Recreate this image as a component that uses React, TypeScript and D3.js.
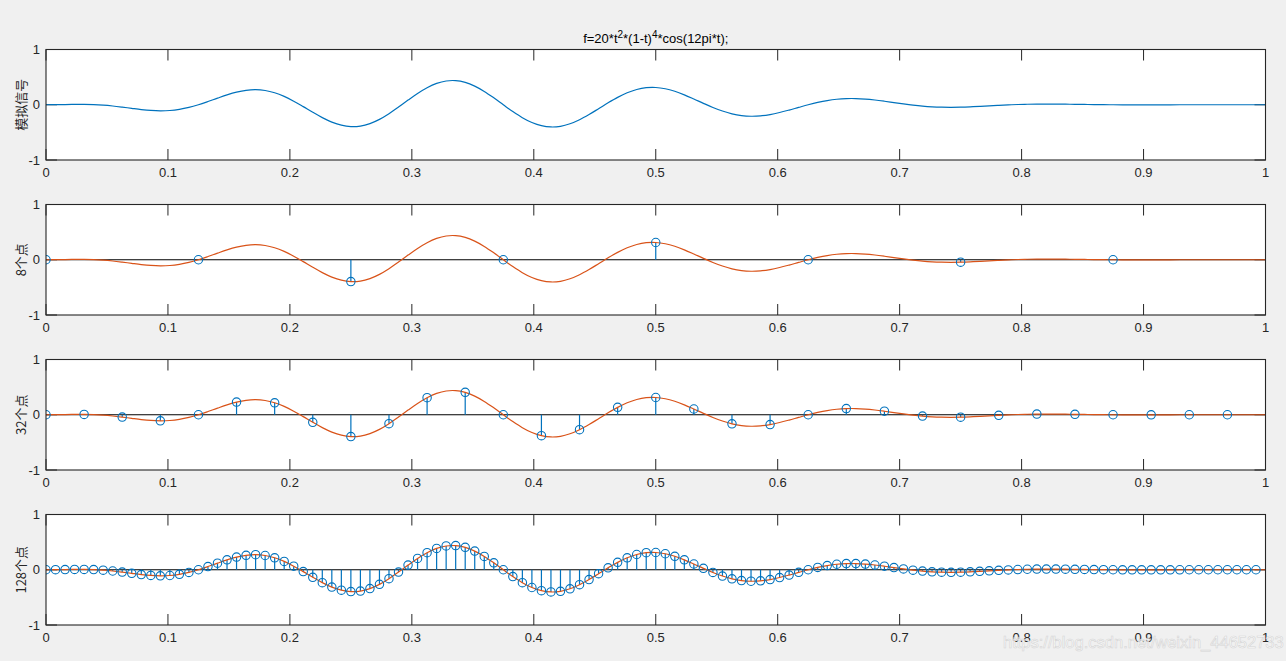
import React from "react";
import * as d3 from "d3";

// f = 20 t^2 (1-t)^4 cos(12 pi t), values read at t = k/128, k = 0..128
const signal128: number[] = [
  0, 0.0011, 0.0038, 0.0063, 0.0066, 0.0026, -0.0071, -0.0225, -0.0427, -0.0651,
  -0.0865, -0.1026, -0.1095, -0.1039, -0.0836, -0.0484, 0, 0.0579, 0.1199, 0.1791,
  0.2286, 0.2616, 0.2725, 0.2579, 0.2167, 0.1508, 0.0649, -0.0338, -0.1364, -0.2331,
  -0.3139, -0.3702, -0.3955, -0.386, -0.3413, -0.2644, -0.1616, -0.0419, 0.0841, 0.2046,
  0.3085, 0.3861, 0.4304, 0.4368, 0.405, 0.3378, 0.2417, 0.1255, 0, -0.1235,
  -0.2338, -0.3214, -0.379, -0.4022, -0.39, -0.3445, -0.271, -0.177, -0.0717, 0.0352,
  0.134, 0.2163, 0.2758, 0.3083, 0.3125, 0.2896, 0.2434, 0.1793, 0.1043, 0.0257,
  -0.0492, -0.1141, -0.1639, -0.1956, -0.2077, -0.2009, -0.1774, -0.141, -0.0961, -0.0475,
  0, 0.0423, 0.0761, 0.0993, 0.1111, 0.1118, 0.1027, 0.0858, 0.0638, 0.0393,
  0.015, -0.0069, -0.0247, -0.0374, -0.0446, -0.0466, -0.0439, -0.0378, -0.0294, -0.02,
  -0.0107, -0.0024, 0.0042, 0.0089, 0.0115, 0.0124, 0.0117, 0.0101, 0.0078, 0.0055,
  0.0032, 0.0014, 0, -0.0009, -0.0013, -0.0013, -0.0012, -0.0009, -0.0006, -0.0004,
  -0.0002, -0.0001, 0, 0, 0, 0, 0, 0, 0,
];

const panelLabels: string[] = ["模拟信号", "8个点", "32个点", "128个点"];
const sampleCounts: number[] = [0, 8, 32, 128];
const xTicks: number[] = [0, 0.1, 0.2, 0.3, 0.4, 0.5, 0.6, 0.7, 0.8, 0.9, 1];
const xTickLabels: string[] = ["0", "0.1", "0.2", "0.3", "0.4", "0.5", "0.6", "0.7", "0.8", "0.9", "1"];
const yTicks: number[] = [-1, 0, 1];
const yTickLabels: string[] = ["-1", "0", "1"];

const W = 1286;
const H = 661;
const LEFT = 46;
const RIGHT = 1265.5;
const TOPS = [49.5, 204.5, 359.5, 514.5];
const PH = 110.5;
const BLUE = "#0072BD";
const ORANGE = "#D95319";
const AXIS = "#262626";
const TICK = 11;
const FONT = "'Liberation Sans', Arial, Helvetica, sans-serif";
const CJK = "'Noto Sans CJK SC', 'Noto Sans', sans-serif";

const points = signal128.map((v, k) => ({ t: k / 128, v }));

function Panel({ idx }: { idx: number }) {
  const top = TOPS[idx];
  const x = d3.scaleLinear().domain([0, 1]).range([LEFT, RIGHT]);
  const y = d3.scaleLinear().domain([-1, 1]).range([top + PH, top]);
  const line = d3
    .line<{ t: number; v: number }>()
    .x((d) => x(d.t))
    .y((d) => y(d.v))
    .curve(d3.curveCatmullRom.alpha(0.5));
  const n = sampleCounts[idx];
  const stems: { t: number; v: number }[] = [];
  if (n > 0) {
    const step = 128 / n;
    for (let k = 0; k < 128; k += step) stems.push(points[k]);
  }
  const clipId = `clip${idx}`;
  return (
    <g>
      <defs>
        <clipPath id={clipId}>
          <rect x={LEFT} y={top} width={RIGHT - LEFT} height={PH} />
        </clipPath>
      </defs>
      <rect x={LEFT} y={top} width={RIGHT - LEFT} height={PH} fill="#ffffff" />
      <g clipPath={`url(#${clipId})`}>
        {n > 0 && (
          <line x1={LEFT} x2={RIGHT} y1={y(0)} y2={y(0)} stroke="#000" strokeWidth={1} />
        )}
        {stems.map((d, i) => (
          <line
            key={"s" + i}
            x1={x(d.t)}
            x2={x(d.t)}
            y1={y(0)}
            y2={y(d.v)}
            stroke={BLUE}
            strokeWidth={1.2}
          />
        ))}
      </g>
      {/* ticks */}
      {xTicks.map((t, i) => (
        <g key={"xt" + i}>
          <line x1={x(t)} x2={x(t)} y1={top + PH} y2={top + PH - TICK} stroke={AXIS} strokeWidth={1} />
          <line x1={x(t)} x2={x(t)} y1={top} y2={top + TICK} stroke={AXIS} strokeWidth={1} />
          <text
            x={x(t)}
            y={top + PH + 17}
            textAnchor="middle"
            fontFamily={FONT}
            fontSize={13}
            fill={AXIS}
          >
            {xTickLabels[i]}
          </text>
        </g>
      ))}
      {yTicks.map((v, i) => (
        <g key={"yt" + i}>
          <line x1={LEFT} x2={LEFT + TICK} y1={y(v)} y2={y(v)} stroke={AXIS} strokeWidth={1} />
          <line x1={RIGHT} x2={RIGHT - TICK} y1={y(v)} y2={y(v)} stroke={AXIS} strokeWidth={1} />
          <text
            x={LEFT - 6}
            y={y(v) + 4.5}
            textAnchor="end"
            fontFamily={FONT}
            fontSize={13}
            fill={AXIS}
          >
            {yTickLabels[i]}
          </text>
        </g>
      ))}
      <g clipPath={`url(#${clipId})`}>
        <path d={line(points) || ""} fill="none" stroke={n > 0 ? ORANGE : BLUE} strokeWidth={1.2} />
        {stems.map((d, i) => (
          <circle
            key={"c" + i}
            cx={x(d.t)}
            cy={y(d.v)}
            r={4.2}
            fill="none"
            stroke={BLUE}
            strokeWidth={1.1}
          />
        ))}
      </g>
      <rect
        x={LEFT}
        y={top}
        width={RIGHT - LEFT}
        height={PH}
        fill="none"
        stroke={AXIS}
        strokeWidth={1.1}
      />
      <text
        transform={`translate(${21},${top + PH / 2}) rotate(-90)`}
        textAnchor="middle"
        fontFamily={CJK}
        fontSize={13}
        fill={AXIS}
        dy="0.35em"
      >
        {panelLabels[idx]}
      </text>
    </g>
  );
}

export default function App() {
  return (
    <svg
      width={W}
      height={H}
      style={{ position: "absolute", left: 0, top: 0, display: "block" }}
    >
      <rect x={0} y={0} width={W} height={H} fill="#f0f0f0" />
      {[0, 1, 2, 3].map((i) => (
        <Panel key={i} idx={i} />
      ))}
      <text
        x={(LEFT + RIGHT) / 2}
        y={43}
        textAnchor="middle"
        fontFamily={FONT}
        fontSize={13}
        fill="#000"
      >
        f=20*t
        <tspan dy={-5} fontSize={10}>2</tspan>
        <tspan dy={5}>*(1-t)</tspan>
        <tspan dy={-5} fontSize={10}>4</tspan>
        <tspan dy={5}>*cos(12pi*t);</tspan>
      </text>
      <text
        x={1003}
        y={648}
        fontFamily={FONT}
        fontSize={16.5}
        fill="#ffffff"
        stroke="#d0d0d0"
        strokeWidth={0.6}
        opacity={0.85}
      >
        https://blog.csdn.net/weixin_44652733
      </text>
    </svg>
  );
}
